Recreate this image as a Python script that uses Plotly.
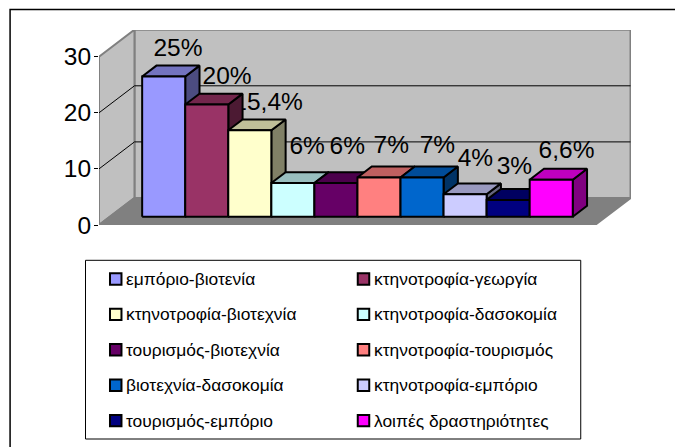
import plotly.graph_objects as go

# ---- data ----
categories = ["εμπόριο-βιοτενία", "κτηνοτροφία-γεωργία", "κτηνοτροφία-βιοτεχνία",
              "κτηνοτροφία-δασοκομία", "τουρισμός-βιοτεχνία", "κτηνοτροφία-τουρισμός",
              "βιοτεχνία-δασοκομία", "κτηνοτροφία-εμπόριο", "τουρισμός-εμπόριο",
              "λοιπές δραστηριότητες"]
values = [25, 20, 15.4, 6, 6, 7, 7, 4, 3, 6.6]
value_labels = ["25%", "20%", "15,4%", "6%", "6%", "7%", "7%", "4%", "3%", "6,6%"]
colors = ["#9999FF", "#993366", "#FFFFCC", "#CCFFFF", "#660066",
          "#FF8080", "#0066CC", "#CCCCFF", "#000080", "#FF00FF"]
y_ticks = [0, 10, 20, 30]

# ---- layout constants (pixels of the 675x447 page) ----
W, H = 675, 447
PL, PR, PT, PB = 98.5, 631, 30, 225      # plot box: front-left axis .. back-right wall
PX_BAR = 43.1                            # one bar width
PX_UNIT = 5.61                           # one value unit
FLOOR_W = 496.5 / PX_BAR
DX = 35.5 / PX_BAR                       # full chart depth, in x units
DY = 27 / PX_UNIT                        # full chart depth, in y units
BAR_X0 = 32.3 / PX_BAR
D0, D1 = 0.307, 0.71                     # bar depth span
LBL_DX = [0, 6, 4, 0, -3, -2, 1, -4, -8, 1]      # label nudges, px
LBL_DY = [16, 16, 16, 24.5, 24.5, 20, 20, 24, 21, 17]


def shade(hex_color, f):
    r, g, b = (int(hex_color[i:i + 2], 16) for i in (1, 3, 5))
    return f"rgb({round(r * f)},{round(g * f)},{round(b * f)})"


def proj(x, y, d):
    return x + d * DX, y + d * DY


def poly(points, fill, line="#000000", width=2):
    xs, ys = [], []
    for p in points:
        px, py = proj(*p)
        xs.append(px)
        ys.append(py)
    return go.Scatter(x=xs + xs[:1], y=ys + ys[:1], mode="lines", fill="toself",
                      fillcolor=fill, line=dict(color=line, width=width),
                      hoverinfo="skip", showlegend=False, cliponaxis=False)


def seg(a, b, color, width):
    (x0, y0), (x1, y1) = proj(*a), proj(*b)
    return go.Scatter(x=[x0, x1], y=[y0, y1], mode="lines",
                      line=dict(color=color, width=width),
                      hoverinfo="skip", showlegend=False, cliponaxis=False)


fig = go.Figure()
GREY, EDGE, FLOOR = "#C0C0C0", "#808080", "#808080"
y_top = y_ticks[-1]

# walls and floor
fig.add_trace(poly([(0, 0, 1), (FLOOR_W, 0, 1), (FLOOR_W, y_top, 1), (0, y_top, 1)], GREY, EDGE, 2))
fig.add_trace(poly([(0, 0, 0), (0, 0, 1), (0, y_top, 1), (0, y_top, 0)], GREY, EDGE, 2))
fig.add_trace(poly([(0, 0, 0), (FLOOR_W, 0, 0), (FLOOR_W, 0, 1), (0, 0, 1)], FLOOR, EDGE, 2))
for t in y_ticks[1:-1]:
    fig.add_trace(seg((0, t, 0), (0, t, 1), "#000000", 1))
    fig.add_trace(seg((0, t, 1), (FLOOR_W, t, 1), "#000000", 1))

# value labels sit behind the bars
lx, ly = [], []
for i, v in enumerate(values):
    x, y = proj(BAR_X0 + i + 0.5, v, D1)
    lx.append(x + LBL_DX[i] / PX_BAR)
    ly.append(y + LBL_DY[i] / PX_UNIT)
fig.add_trace(go.Scatter(x=lx, y=ly, mode="text", text=value_labels, textposition="middle center",
                         textfont=dict(family="Liberation Sans", size=24.5, color="#000000"),
                         hoverinfo="skip", showlegend=False, cliponaxis=False))

# bars, painted left to right
for i, (name, v, c) in enumerate(zip(categories, values, colors)):
    x0, x1 = BAR_X0 + i, BAR_X0 + i + 1
    fig.add_trace(poly([(x1, 0, D0), (x1, 0, D1), (x1, v, D1), (x1, v, D0)], shade(c, 0.5)))
    fig.add_trace(poly([(x0, v, D0), (x1, v, D0), (x1, v, D1), (x0, v, D1)], shade(c, 0.75)))
    front = poly([(x0, 0, D0), (x1, 0, D0), (x1, v, D0), (x0, v, D0)], c)
    front.name = name
    fig.add_trace(front)

# frame, legend box, legend entries
def px_x(v):
    return (v - PL) / (PR - PL)


def px_y(v):
    return 1 - (v - PT) / (PB - PT)


shapes = [
    dict(type="rect", xref="paper", yref="paper", x0=px_x(9.5), x1=px_x(700), y0=px_y(9.5), y1=px_y(470),
         line=dict(color="#000000", width=1.5), layer="below"),
    dict(type="rect", xref="paper", yref="paper", x0=px_x(85), x1=px_x(580.7), y0=px_y(260.3), y1=px_y(439),
         line=dict(color="#000000", width=1), fillcolor="#FFFFFF", layer="below"),
]
annotations = []
COL_SW = [109.5, 357.5]
COL_TX = [125, 372.5]
ROW0, ROW_H = 279, 35.4
for i, (name, c) in enumerate(zip(categories, colors)):
    col, row = i % 2, i // 2
    cy = ROW0 + row * ROW_H
    shapes.append(dict(type="rect", xref="paper", yref="paper",
                       x0=px_x(COL_SW[col]), x1=px_x(COL_SW[col] + 11.5),
                       y0=px_y(cy - 5.7), y1=px_y(cy + 5.7),
                       fillcolor=c, line=dict(color="#000000", width=2)))
    annotations.append(dict(xref="paper", yref="paper", x=px_x(COL_TX[col]), y=px_y(cy),
                            xanchor="left", yanchor="middle", showarrow=False, text=name,
                            borderpad=0, font=dict(family="Liberation Sans", size=17.4, color="#000000")))

fig.update_layout(
    width=W, height=H, autosize=False, paper_bgcolor="#FFFFFF", plot_bgcolor="rgba(0,0,0,0)",
    margin=dict(l=PL, r=W - PR, t=PT, b=H - PB, pad=0), showlegend=False,
    shapes=shapes, annotations=annotations,
    xaxis=dict(range=[0, (PR - PL) / PX_BAR], visible=False, fixedrange=True),
    yaxis=dict(range=[0, (PB - PT) / PX_UNIT], tickmode="array", tickvals=y_ticks,
               ticks="outside", ticklen=4, tickwidth=1, tickcolor="#000000", ticklabelstandoff=-2,
               showgrid=False, zeroline=False, showline=False, fixedrange=True,
               tickfont=dict(family="Liberation Sans", size=24.5, color="#000000")),
)
fig.write_html("out.html", config=dict(displayModeBar=False),
               post_script="document.body.style.margin='0';document.body.style.overflow='hidden';")
